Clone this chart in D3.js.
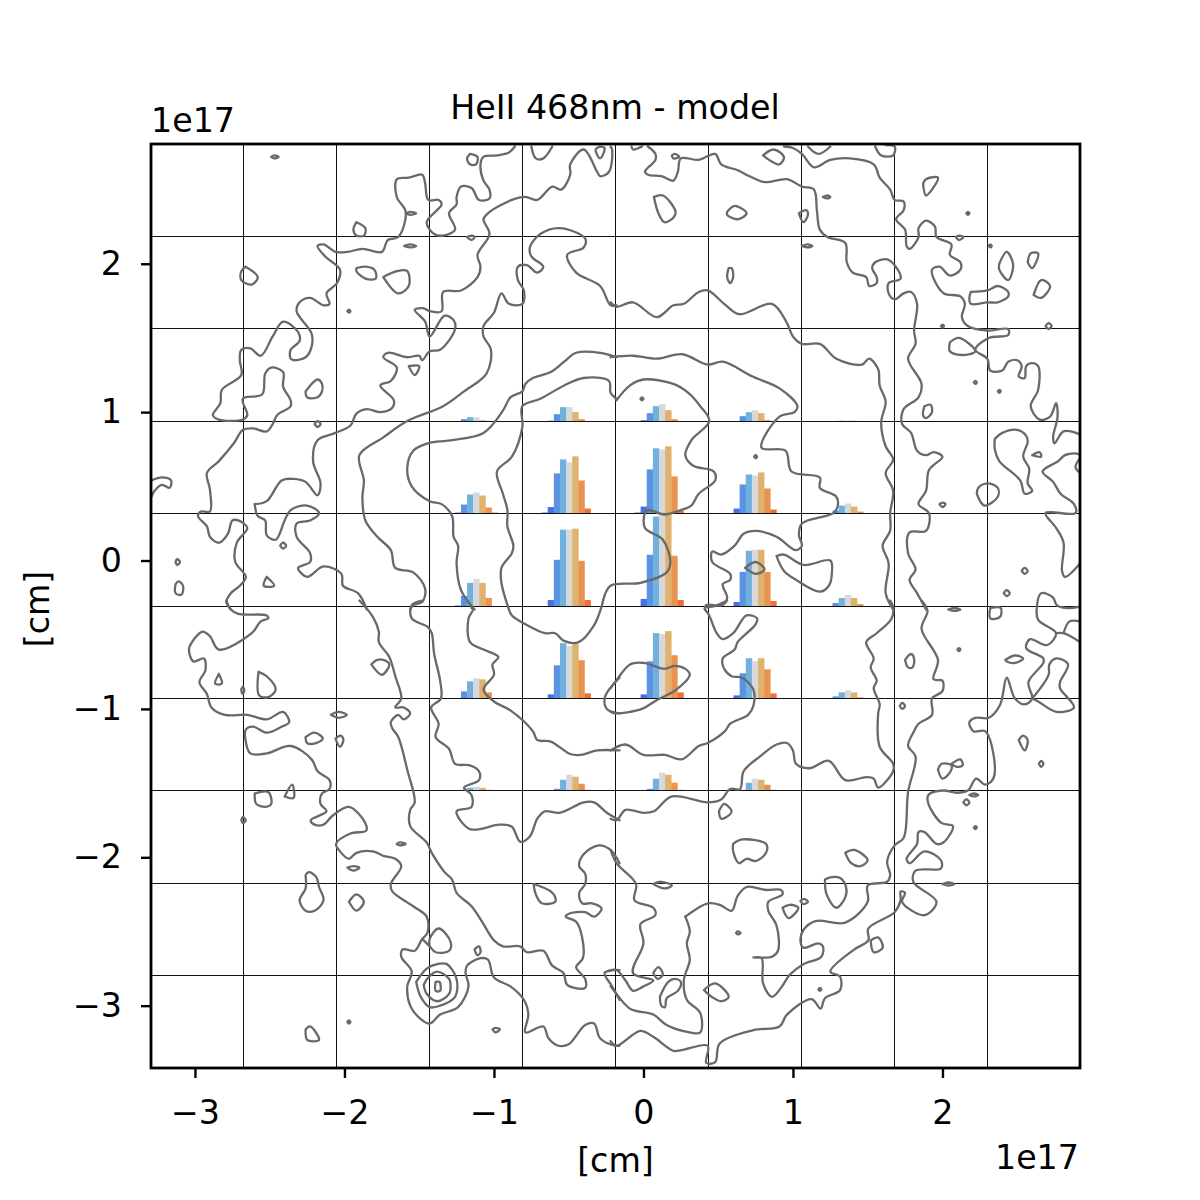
<!DOCTYPE html>
<html>
<head>
<meta charset="utf-8">
<script src="https://cdn.jsdelivr.net/npm/d3@7"></script>
<style>
  body { margin: 0; background: #fff; }
  text { font-family: "DejaVu Sans", sans-serif; fill: #000; }
</style>
</head>
<body>
<svg id="chart" width="1200" height="1200"></svg>
<script>
// sky position in units of 1e15 cm, flat x,y lists
const xLimits = [-329.4, 292];
const yLimits = [-342, 280.7];
const xTicks = [-300, -200, -100, 0, 100, 200];
const yTicks = [-300, -200, -100, 0, 100, 200];

// line profile bins, spectra[row][col][bin]
const binNames = [0, 1, 2, 3, 4, 5, 6, 7];
const binColors = ["#3454c8", "#4a6fe3", "#5a93e4", "#71b1de", "#d6d8da", "#e0b26e", "#e8934f", "#ee7038"];
const fluxMax = 92;
const insetCols = [3, 4, 5, 6, 7];
const insetRows = [2, 3, 4, 5, 6];
const spectra = [
  [[0,0,2,4,3.7,1,0.3,0],[0,0.5,7,14,14,9,2,0],[0,1,8,15,17,11,2,0],[0,0,5,9,11,8,1,0],[0,0,0,0.5,0.5,0.5,0,0]],
  [[0,1,9,19,21,18,6,1],[1,6.5,40,54,51,57,33,5],[1,7,44,65,64,67,37,3],[0,5,29,39,38,41,25,4],[0,0,3,8,10,7,2,0]],
  [[0,0.5,10,23,27,23,8,0],[0,6,46,76,76,77,45,6],[0,7,51,89,95,100,50,6],[0,4,34,55,56,56,34,5],[0,0,3,8,11,8,2,0]],
  [[0,0,7,17,20,19,6,0],[0,4,33,55,52,55,38,5],[0,4,37,65,64,67,43,6],[0,3,25,40,37,40,29,5],[0,0,2,6,8,6,1,0]],
  [[0,0,1,3,4,3,1,0],[0,0,2,11,16,14,7,1],[0,0,2,12,18,16,8,1],[0,0,1,8,12,11,6,1],[0,0,0,0.5,0.5,0.5,0.5,0]]
];

const contoursNW = [
  [-249,272,-247,273,-244,272,-247,271,-249,272],
  [-86,279,-90,275,-98,273,-107,272,-109,267,-107,256,-103,250,-103,244,-110,243,-115,251,-122,252,-125,245,-125,240,-130,234,-126,223,-134,219,-140,220,-145,228,-135,240,-137,243,-144,243,-146,254,-148,260,-157,258,-165,257,-165,245,-159,235,-164,218,-171,216,-175,208,-188,210,-198,208,-206,208,-214,213,-218,212,-213,205,-203,196,-205,187,-212,180,-210,173,-214,172,-223,177,-230,174,-232,168,-222,153,-222,144,-226,137,-234,135,-236,136,-236,142,-230,148,-231,154,-241,161,-248,151,-256,138,-263,143,-269,142,-270,135,-269,125,-282,115,-283,106,-288,98,-284,95,-268,95,-265,98,-268,109,-255,112,-253,126,-249,130,-241,127,-241,117,-236,108,-236,104,-245,98,-248,92,-252,87,-261,89,-268,88,-274,79,-284,67,-292,59,-290,48,-290,33,-296,33,-298,30,-292,23,-290,16,-284,12,-278,18,-275,27,-271,27,-265,22,-272,12,-273,-1,-266,-11,-270,-17,-276,-22,-279,-28,-276,-33],
  [-260,38,-252,40,-242,54,-234,55,-226,53,-218,44,-216,52,-221,67,-218,81,-206,86,-196,91,-192,99,-185,102,-176,100,-168,103,-167,108,-176,118,-169,121,-165,130,-174,137,-171,140,-158,137,-150,138,-148,135,-143,141,-136,142,-126,156,-127,162,-133,165,-143,151,-146,161,-153,169,-147,170,-143,168,-135,168,-134,181,-122,182,-111,191,-109,198,-111,206,-103,220,-107,230,-104,234,-88,243,-79,245,-71,243,-61,252,-55,250,-49,260,-49,267,-40,277,-31,262,-29,259,-23,262,-21,277,-22,279],
  [-260,38,-258,30,-253,27,-252,17,-246,14,-240,27,-236,34,-225,37,-217,32,-223,27,-232,25,-232,16,-223,5,-223,-1,-231,-5,-225,-11,-214,-4,-202,-9,-201,-17,-191,-22,-185,-33],
  [-18,172,-22,172,-29,185,-45,194,-51,206,-40,211,-39,217,-56,224,-69,220,-76,211,-75,205,-67,198,-71,194,-78,199,-84,198,-84,189,-80,182,-81,173,-90,173,-95,180,-100,167,-107,158,-107,151,-102,142,-105,126,-120,114,-134,104,-158,94,-174,83,-190,71,-187,54,-188,42,-186,27,-178,16,-169,7,-166,-5,-154,-8,-146,-19,-148,-28,-154,-30,-156,-33],
  [-18,137,-29,140,-45,140,-53,134,-62,127,-74,123,-79,119,-81,114,-89,110,-94,101,-107,86,-129,81,-144,79,-154,74,-158,62,-155,50,-143,40,-135,38,-128,30,-127,16,-124,10,-125,-2,-122,-20,-113,-33],
  [-18,109,-22,113,-23,121,-40,123,-53,118,-69,109,-81,104,-81,90,-88,70,-98,60,-94,45,-91,34,-91,23,-87,10,-88,5,-95,-5,-95,-15,-90,-33],
  [-116,274,-111,272,-112,267,-116,267,-118,271,-116,274],
  [-192,228,-186,224,-187,219,-192,219,-194,223,-192,228],
  [-159,234,-156,235,-152,234,-156,233,-159,234],
  [-118,218,-115,219,-113,218,-115,216,-118,218],
  [-160,212,-156,213,-152,212,-156,211,-160,212],
  [-266,198,-258,191,-262,186,-269,189,-269,195,-266,198],
  [-192,197,-186,198,-180,196,-179,190,-186,190,-192,195,-192,197],
  [-174,191,-165,195,-158,195,-157,185,-164,180,-174,191],
  [-198,168,-197,169,-196,168,-197,167,-198,168],
  [-157,131,-150,131,-153,125,-157,131],
  [-226,114,-218,122,-215,119,-215,114,-218,110,-225,110,-226,114],
  [-220,92,-218,94,-216,92,-218,90,-220,92],
  [-329,54,-322,56,-316,54,-317,49,-322,51,-327,47,-329,43],
  [-313,-1,-312,1,-310,-1,-312,-3,-313,-1],
  [-313,-16,-311,-14,-308,-17,-309,-23,-313,-22,-313,-16],
  [-252,-11,-247,-17,-254,-17,-252,-11],
  [-243,10,-241,12,-239,10,-241,8,-243,10],
  [-75,279,-72,271,-67,271,-61,279],
  [-29,279,-32,277,-29,271,-26,278,-29,279]
];

const contoursNE = [
  [-8,279,-7,277,-1,279],
  [3,279,8,274,8,270,1,262,3,260,12,259,20,256,23,262,25,271,37,270,48,274,52,267,63,263,71,259,81,255,96,257,106,252,114,250,116,236,118,223,123,218,135,214,136,201,140,194,149,191,151,185,156,187,156,191,153,197,155,201,163,203,168,199,172,190,164,187,164,180,168,176,174,180,179,181,183,173,181,155,182,146,177,136,186,119,184,110,174,102,173,92,179,86,183,74,189,71,194,73,200,70,191,61,189,47,184,38,191,32,189,20,178,19,177,5,182,-6,178,-13,183,-22,189,-33],
  [94,279,100,278,106,274,114,265,125,270,138,271,154,267,158,258,165,250,168,243,174,242,174,236,169,230,175,223,176,212,178,210,184,218,184,224,189,229,195,225,196,218,206,213,205,206,212,201,212,196,205,192,198,198,193,196,195,188,201,180,212,178,215,173,213,164,217,158,230,155,244,156,244,152,231,150,222,142,230,136,232,128,240,128,244,134,250,135,253,131,251,124,255,123,256,131,260,133,264,131,264,115,259,104,265,95,272,97,276,106,277,97,274,83,275,79,281,87,292,85],
  [-22,174,-18,171,-7,174,9,164,20,172,27,173,37,181,43,182,54,173,64,166,86,173,96,160,100,151,106,146,118,146,129,136,146,132,151,136,157,129,158,118,162,107,159,93,162,77,167,68,162,59,167,47,165,32,165,20,160,10,164,-2,162,-22,167,-33],
  [-22,137,-7,138,9,136,26,139,43,132,53,134,73,124,91,116,103,104,101,100,91,97,79,76,95,74,99,60,118,56,118,49,129,43,130,37,127,32,106,25,104,17,106,10,102,7,89,16,75,20,67,18,61,10,52,4,46,6,46,-1,58,-9,58,-13,53,-16,56,-25,53,-30,42,-30,41,-33],
  [-18,108,-9,118,0,122,20,119,30,113,38,104,44,94,32,81,28,71,33,64,47,60,48,54,37,45,32,37,25,34,14,31,3,34,1,32,1,22,13,14,18,-1,15.5,-8,-2,-15,-22,-17,-27,-27],
  [89,3,94,4,107,-3,125,0,126,-9,124,-17,118,-21,102,-13,94,-7,89,3],
  [68,-5,75,-1,81,-6,75,-9,68,-5],
  [-2,109,-1,110,0,109,-1,108,-2,109],
  [74,70,75,71,76,70,75,69,74,70],
  [80,273,87,277,94,272,91,267,84,270,80,273],
  [110,279,117,274,125,279],
  [155,279,159,273,167,273,168,279,162,280],
  [19,273,21,274,24,272,20,271,19,273],
  [7,245,13,246,21.5,235,20,231,14,228,10,234,7,245],
  [56,235,61,239,69,234,63,230,56,233,56,235],
  [104,234,109,236,110,233,107,228,104,234],
  [120,245,123,246,125,245,123,244,120,245],
  [106,212,110,213,113,212,110,211,106,212],
  [57,197,59,197,60,191,58,187,56,191,57,197],
  [187,254,189,257,197,258,193,250,189,246,187,254],
  [216,234,217,235,218,234,217,233,216,234],
  [209,218,211,219,214,218,211,216,209,218],
  [231,212,232,213,233,212,232,211,231,212],
  [238,200,243,208,247,201,247,196,244,189,238,196,238,200],
  [257,201,259,207,264,207,260,197,257,201],
  [261,179,266,189,272,185,266,177,261,179],
  [219,181,230,182,237,185,244,181,244,178,237,174,230,174,219,173,218,177,219,181],
  [199,158,200,159,201,158,200,157,199,158],
  [269,158,271,160,273,158,271,156,269,158],
  [205,147,211,150,222,141,213,138.5,205,141,205,147],
  [221,120,222,121,223,120,222,119,221,120],
  [237,114,238,115,239,114,238,113,237,114],
  [188,104,192,105,193,100,189,96,187,98,188,104],
  [235,82,240,86,250,88,256,84,257,80,254,70,258,62,257,52,260,47,255,45,252,54,238,67,235,75,235,82],
  [260,71,265,73,266,70,260,71],
  [292,71,290,72,282,71,277.5,67,267,60,274,53,279,45,288,38,289,32,269,32,276,22,281,12,280,-7,282,-11,292,-2],
  [292,69,289,63,292,59],
  [223,45,224,49,230,52,237,49,237,43,228,37,223,45],
  [198,38,200,39,202,38,200,36,198,38],
  [253,-7,255,-5,257,-7,255,-9,253,-7],
  [241,-22,243,-20,245,-22,243,-24,241,-22]
];

const contoursSW = [
  [-279,-27,-276,-33,-271,-36,-252,-37,-251,-39,-256,-41,-262,-49,-284,-60,-290,-51,-295,-48,-302,-55,-304,-60,-301,-68,-294,-66,-293,-74,-297,-82,-292,-90,-289,-99,-280,-104,-265,-104,-252,-107,-241,-102,-237,-109,-242,-112,-252,-116,-261,-112,-266,-114,-266,-122,-263,-130,-252,-130,-236,-125,-222,-134,-218,-142,-210,-148,-210,-154,-215,-157,-216,-164,-212,-169,-222.5,-175,-220,-178,-214,-178,-208,-172,-197,-166,-186,-177,-185.5,-182,-196,-184,-205.6,-191,-203,-196,-197,-201,-192,-197,-181,-196,-174,-199,-166,-201,-162,-206,-169,-218,-168,-223,-154,-233,-145,-240,-144.5,-251,-148,-255,-153,-263,-161,-262,-162,-267,-155,-277,-158,-287,-156,-300,-149,-309,-143,-312,-136,-306,-124,-301,-117,-287,-119,-278,-118,-273,-109,-268,-104,-269,-100,-281,-89,-287,-80,-296,-77,-306,-79,-318,-67,-314,-63.5,-322,-57,-327,-50,-326,-39,-313,-33,-312,-29,-322,-19,-327,-16,-327],
  [-148,-255,-143,-260,-139,-264,-130,-263,-129,-257,-137,-248,-143,-255,-143,-260],
  [-152,-284,-145,-275,-138,-272,-131.5,-272,-125,-282,-126,-294,-136,-300,-143,-301,-149,-294,-152,-284],
  [-147,-286,-144,-281,-138,-277,-130,-282,-129,-287,-130,-292,-138,-297,-145,-292,-147,-286],
  [-139,-284,-136.4,-284,-136,-290,-139,-290,-139,-284],
  [-190,-27,-181,-38,-177,-48,-177,-55,-170,-65,-166,-78,-162,-93,-166,-99,-160.5,-99,-156,-103,-160.5,-107,-164,-104,-169,-109,-168,-113,-164,-119,-158,-141,-153,-163,-156,-168,-156,-179,-145,-190,-141.6,-197,-133,-210,-128,-215,-125,-224,-115,-233,-108,-243.4,-100,-256,-94,-260,-82.5,-260,-78,-264,-67,-263,-61,-273,-53.5,-278,-51,-286,-39,-288,-39,-282,-45,-274,-40.5,-268,-41,-254,-45,-243.4,-52,-240,-50,-238,-39,-237,-33,-240,-28,-234.5,-34.5,-231,-41,-231,-43,-224,-39,-218,-39,-211,-43,-206,-40,-198,-30,-192,-22,-195,-16,-204],
  [-182,-70,-178,-67,-174,-67,-170,-70,-175,-77,-182,-70],
  [-148,-27,-155,-30,-155,-39,-144,-45,-141.6,-49,-140,-63,-136,-81,-135.5,-93,-142,-99,-137,-110,-139,-119,-130,-127,-126,-137,-116,-138,-110,-142,-110,-148,-120,-153,-115,-158,-115,-166,-125,-169,-116,-181,-96,-178,-88,-179.4,-82.5,-189.5,-76,-186,-71,-174,-66,-169,-56,-170,-40,-163,-33,-163,-24.5,-170,-16,-175],
  [-90,-33,-88,-37,-78,-43.5,-66,-49,-59,-49,-53.5,-54,-43.4,-55,-33,-43.5,-28,-31,-27,-27],
  [-115,-32,-114,-33,-117,-39,-116,-55,-107,-60,-97,-65,-101,-70,-100,-77,-107,-87,-100,-95,-89,-101,-74,-115,-71,-121,-62,-122,-49,-130.4,-42,-131,-31,-128,-16,-128],
  [-16,-79,-23,-87,-26,-93,-24.5,-100,-16,-103],
  [-16,-276,-20,-276,-26,-278,-21,-287,-16,-296],
  [-284,-76.5,-282,-83,-286.5,-83,-284,-76.5],
  [-268,-85,-267,-87,-268,-90,-269,-87,-268,-85],
  [-257.5,-75,-252,-78,-246,-87,-251,-92,-257,-91,-257.5,-75],
  [-209,-104,-204,-102,-198.4,-104,-204,-106,-209,-104],
  [-226,-119,-220,-116,-214.5,-120,-219,-123,-225,-123,-226,-119],
  [-206,-120,-202.4,-118,-200.7,-121,-203,-125.5,-206,-120],
  [-260,-157,-251,-156,-249,-164,-253,-166,-259,-164,-260,-157],
  [-240,-159,-235,-151,-234,-160,-240,-159],
  [-269,-175,-268,-173,-266,-175,-268,-177,-269,-175],
  [-165,-191,-163,-190,-159,-191,-163,-192,-165,-191],
  [-198,-207,-194,-206,-190,-207,-194,-209,-198,-207],
  [-226,-212,-224,-210,-219,-213,-217,-220,-214,-229,-220,-236,-226,-236,-230,-229,-226,-221,-226,-212],
  [-197,-230,-192,-225,-187,-230,-192,-236,-197,-230],
  [-113,-262,-110,-260,-109,-264,-111,-266,-113,-262],
  [-198,-311,-197,-310,-196,-311,-197,-312,-198,-311],
  [-226,-316,-223,-314,-217,-323,-221,-324,-225,-323,-226,-316],
  [-101,-316,-99,-315,-96,-316,-99,-318,-101,-316],
  [-73.5,-218,-62,-223,-59,-227,-59,-230,-68,-231,-72,-225,-73.5,-218]
];

const contoursSE = [
  [-22,-174,-18,-175,-12,-168,0,-170,7,-169,19,-159,43,-163,52,-161,58,-154,64.6,-154,67,-142,78,-132,89,-124,96,-123,100,-128,102,-137,111,-140,124,-135,135,-148,149,-146,154,-147,157,-153,167,-142,167,-137,158,-125.5,157,-103,158,-97,154,-86,156,-81,152,-72,154,-66,149,-55,156,-49,166,-39,167,-31,165,-27],
  [56,-27,47,-31,41,-32,44,-37,49,-49,53,-53,60,-49,69,-37,76,-39,75,-43,63,-55,61,-60,53,-66,54,-73,59,-78,66,-79,73.5,-87,73.5,-98,70,-104,58,-110,54.5,-115,43,-123,37,-125,25.5,-134,14.4,-131,0,-131,-12,-124,-22,-128],
  [-22,-86,-19,-82,-9,-70,0,-69,14,-73,21,-71,28,-73,31,-77,22,-87,9,-94,-1,-100,-19,-103,-22,-102],
  [-22,-195,-18,-204,-5,-218,-6,-229,6.6,-234,8,-239,-2,-245,0,-258,-7,-278,6.6,-283,0,-287,-7,-290,-12,-283,-18,-276,-22,-276],
  [6.6,-218,12,-216.5,19,-219,14,-221,6.6,-218],
  [28,-240,43,-231,51,-232,59,-236,63,-226,69,-220,82,-222,92,-222,93,-225,83.5,-230,83.5,-236,89,-246,90,-263,86,-267,73.5,-267.5,79,-268,80,-285,86,-294,92,-288,98,-279,107,-272,119,-267,120,-260,117,-258,107,-261,105,-256,107,-249,115,-243,135,-244,150,-230,150,-219,163,-216.5,165,-212,163,-203,168,-192,174,-187,177,-156,182,-132,177,-125,181,-115,184,-110,193,-104,193,-93,200,-88,200,-81,194,-80,197,-67,186,-46,190,-34,186,-27],
  [28,-240,31,-250,29,-258,31,-269,27,-283,29,-296,38,-305,38,-318,31,-318,15.5,-313,6.6,-306,-9,-302,-20,-289.5,-22,-287],
  [-22,-324,-18,-327,-2,-317,6.6,-321,20,-330.4,25.5,-330,43,-327,42,-338.5,48,-338,51,-325.5,73.5,-316.5,91,-314,96,-306,112.5,-295.6,118.5,-302,121.4,-295,131.5,-289.5,131.5,-280.5,125,-277,140.4,-262.5,150.4,-256,150.4,-248,168,-237,172,-229,172,-223,175,-224,173,-230,188,-239,196,-230,180.5,-216.5,182,-209,199,-207.5,199,-202,188,-196,178,-204,176,-201,183,-191,184,-183,188,-183,196,-191,200.6,-190,207,-179,199.5,-177,190.6,-164,190.6,-158,200.6,-155,209.5,-156.5,217,-155,222.5,-147,228.5,-151,234,-147,234,-130,228.5,-115,220.7,-115,218,-109,222,-106,231,-106,238.5,-97.4,243,-79,248.5,-93,255,-97,260,-93,257.5,-82,267.5,-69,267.5,-66,256,-59,258.6,-53,270,-57,276,-49,264,-40,263,-33,266,-22,274,-25,276.4,-30,283,-32,292,-31],
  [276,-49,281,-49,292,-55],
  [281,-49,285,-41,292,-41],
  [260,-93,271,-77,271.5,-70,276.4,-66,284,-70,278.6,-82,278.6,-86,288,-99,276.4,-102,264,-95,260,-93],
  [204,-33,208,-32,212,-33,208,-34,204,-33],
  [232,-32,239,-32,238.5,-38,232,-39,232,-32],
  [210,-60,211,-59,212,-60,211,-61,210,-60],
  [175,-67,179,-63,181,-66,180,-72,177,-72,175,-67],
  [171.5,-98,173,-96,175,-98,173,-100,171.5,-98],
  [242,-67,248.5,-64,254,-66,248.5,-69,243,-68,242,-67],
  [251,-121,254,-118,257,-121,255,-128,251,-121],
  [264.5,-137,266,-135,267.5,-137,266,-139,264.5,-137],
  [197,-141,199.5,-137,206,-138,205.5,-142,200,-147,197,-141],
  [206,-137,212,-134,213.5,-138,209.5,-139,206,-137],
  [218,-158,221,-157,224,-158,221,-159,218,-158],
  [214,-163,216,-161,218,-163,216,-165,214,-163],
  [221,-180,222,-179,223,-180,222,-181,221,-180],
  [200,-218,204,-217,208,-218,204,-219,200,-218],
  [50.5,-169,54,-164,59,-169,57.4,-171.5,52,-174,50.5,-169],
  [60,-191,66,-188,82,-191,82,-197,75,-202.5,69,-201,64,-204,60,-196,60,-191],
  [135,-197,141,-195,150,-202,145,-206,139,-204,135,-197],
  [121.4,-215,125,-213.5,131.5,-214,135.5,-220,135,-227,129,-234,122.5,-225,121.4,-215],
  [93,-234,98,-232,103.6,-234,97,-241,93,-234],
  [105,-229.5,107.4,-228,110,-230,107,-231.5,105,-229.5],
  [62,-251,63,-250,65,-251,63,-252,62,-251],
  [117,-289,118,-288,119,-289,118,-290,117,-289],
  [152,-256,157,-254,160,-261,154,-264,152,-256],
  [40.5,-289.5,48,-285,57,-294,52,-297,45.6,-294,40.5,-289.5],
  [6.6,-278,10,-274,13,-279,9.5,-282,6.6,-278],
  [11,-294,16.6,-284,21,-282,25,-284,23,-290,15.5,-295,14.4,-301,12,-300,11,-294]
];

const margin = {top: 144, right: 120, bottom: 132, left: 151};
const width = 1200 - margin.left - margin.right;
const height = 1200 - margin.top - margin.bottom;
const svg = d3.select("#chart");
const plot = svg.append("g").attr("transform", "translate(" + margin.left + "," + margin.top + ")");

svg.append("clipPath").attr("id", "plot-clip").append("rect").attr("width", width).attr("height", height);

const x = d3.scaleLinear(xLimits, [0, width]);
const y = d3.scaleLinear(yLimits, [height, 0]);

// 10 x 10 grid of inset cells
const gridX = d3.scaleLinear([0, 10], [0, width]);
const gridY = d3.scaleLinear([0, 10], [0, height]);
const cellW = gridX(1) - gridX(0);
const cellH = gridY(1) - gridY(0);
const binX = d3.scaleBand(binNames, [cellW * 0.2045, cellW * 0.732]);
const fluxY = d3.scaleLinear([0, fluxMax], [cellH, 0]).clamp(true);

insetRows.forEach((row, r) => {
  insetCols.forEach((col, c) => {
    plot.append("g")
      .attr("transform", "translate(" + gridX(col) + "," + gridY(row) + ")")
      .selectAll("rect")
      .data(spectra[r][c])
      .enter()
      .append("rect")
      .attr("x", (d, i) => binX(i))
      .attr("y", d => fluxY(d))
      .attr("width", binX.bandwidth() + 0.3)
      .attr("height", d => cellH - fluxY(d))
      .attr("fill", (d, i) => binColors[i]);
  });
});

const grid = plot.append("g").attr("stroke", "#111").attr("stroke-width", 1).attr("shape-rendering", "crispEdges");
d3.range(1, 10).forEach(i => {
  grid.append("line").attr("x1", gridX(i)).attr("x2", gridX(i)).attr("y1", 0).attr("y2", height);
  grid.append("line").attr("y1", gridY(i)).attr("y2", gridY(i)).attr("x1", 0).attr("x2", width);
});

const line = d3.line().x(d => x(d[0])).y(d => y(d[1])).curve(d3.curveCatmullRom.alpha(0.5));
const toPairs = flat => d3.range(0, flat.length, 2).map(i => [flat[i], flat[i + 1]]);
const contours = [...contoursNW, ...contoursNE, ...contoursSW, ...contoursSE];

plot.append("g")
  .attr("clip-path", "url(#plot-clip)")
  .selectAll("path")
  .data(contours)
  .enter()
  .append("path")
  .attr("d", d => line(toPairs(d)))
  .attr("fill", "none")
  .attr("stroke", "#696969")
  .attr("stroke-width", 2.3)
  .attr("stroke-linejoin", "round")
  .attr("stroke-linecap", "round");

const fmt = d => String(d / 100).replace("-", "\u2212");

const xAxis = plot.append("g")
  .attr("transform", "translate(0," + height + ")")
  .call(d3.axisBottom(x).tickValues(xTicks).tickSize(10).tickPadding(22).tickFormat(fmt));
const yAxis = plot.append("g")
  .call(d3.axisLeft(y).tickValues(yTicks).tickSize(10).tickPadding(19).tickFormat(fmt));

[xAxis, yAxis].forEach(a => {
  a.selectAll("text").attr("font-family", "DejaVu Sans").attr("font-size", 33.3);
  a.selectAll("line").attr("stroke", "#000").attr("stroke-width", 2.4);
  a.select(".domain").remove();
});

plot.append("rect")
  .attr("width", width)
  .attr("height", height)
  .attr("fill", "none")
  .attr("stroke", "#000")
  .attr("stroke-width", 2.8);

const label = (t, px, py, anchor) => svg.append("text")
  .attr("x", px).attr("y", py)
  .attr("text-anchor", anchor || "middle")
  .attr("font-size", 33.3)
  .text(t);

label("HeII 468nm - model", 615, 119);
label("[cm]", 615.5, 1172);
label("1e17", 151, 132, "start");
label("1e17", 1079, 1169, "end");
label("[cm]", 0, 0).attr("transform", "translate(49,609) rotate(-90)");
</script>
</body>
</html>
